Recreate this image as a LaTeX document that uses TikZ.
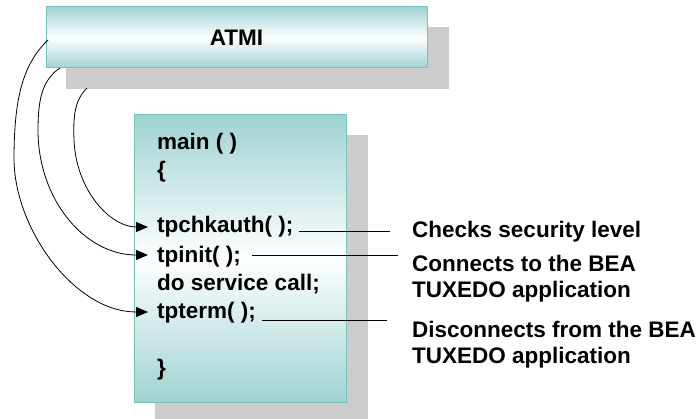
\documentclass[tikz,border=0pt]{standalone}
\usepackage{fontspec}
\setmainfont{Liberation Sans}
\usetikzlibrary{arrows.meta,calc}
\definecolor{tealedge}{RGB}{120,194,190}
\definecolor{tealfill}{RGB}{160,210,210}
\definecolor{shadowgray}{RGB}{204,204,204}
\begin{document}
\begin{tikzpicture}[x=1pt,y=-1pt,
  font=\fontsize{22.5}{26}\selectfont\bfseries,
  box/.style={draw=tealedge, line width=1pt, top color=tealfill, bottom color=tealfill, middle color=white, inner sep=0pt},
  code/.style={anchor=base west, inner sep=0pt},
  note/.style={anchor=base west, inner sep=0pt},
  call/.style={line width=0.8pt, -{Triangle[length=12pt,width=10pt]}},
  lead/.style={line width=0.8pt}]
\useasboundingbox (0,0) rectangle (700,419);
% ATMI box with shadow
\fill[shadowgray] (66,27) rectangle (449,89);
\node[box, minimum width=381pt, minimum height=61pt] (atmi) at (236.5,37.5) {ATMI};
% program box with shadow
\fill[shadowgray] (155,135) rectangle (368,419);
\node[box, minimum width=212pt, minimum height=287pt] (prog) at (240,258.5) {};
% code lines
\node[code] (mainl) at (157,150) {main ( )};
\node[code] (open) at (157,178) {\{};
\node[code] (chk) at (157,233) {tpchkauth( );};
\node[code] (init) at (157,262) {tpinit( );};
\node[code] (svc) at (157,290) {do service call;};
\node[code] (term) at (157,318) {tpterm( );};
\node[code] (close) at (157,375) {\}};
% notes
\node[note] (lab1) at (412,238) {Checks security level};
\node[note] (lab2) at (412,271) {Connects to the BEA};
\node[note] (lab2b) at (412,297) {TUXEDO application};
\node[note] (lab3) at (412,337) {Disconnects from the BEA};
\node[note] (lab3b) at (412,363) {TUXEDO application};
% curve start points on ATMI box
\coordinate (s1) at (48,40);
\coordinate (s2) at (60,68);
\coordinate (s3) at (87,88);
% calls
\draw[call] (s3) .. controls (75,100) and (73,115) .. (74,140)
  .. controls (76,190) and (110,227) .. ($(chk.base west)+(-9,-6)$);
\draw[call] (s2) .. controls (42,80) and (38,100) .. (38,130)
  .. controls (38,200) and (85,255) .. ($(init.base west)+(-9,-7)$);
\draw[call] (s1) .. controls (22,65) and (14,100) .. (14,160)
  .. controls (15,230) and (75,312) .. ($(term.base west)+(-9,-6)$);
% leader lines
\draw[lead] ($(chk.base east)+(5,-2)$) -- ($(lab1.base west)+(-22,-7)$);
\draw[lead] ($(init.base east)+(11,-7)$) -- ($(lab2.base west)+(-14,-16)$);
\draw[lead] ($(term.base east)+(6,2)$) -- ($(lab3.base west)+(-25,-17)$);
\end{tikzpicture}
\end{document}
